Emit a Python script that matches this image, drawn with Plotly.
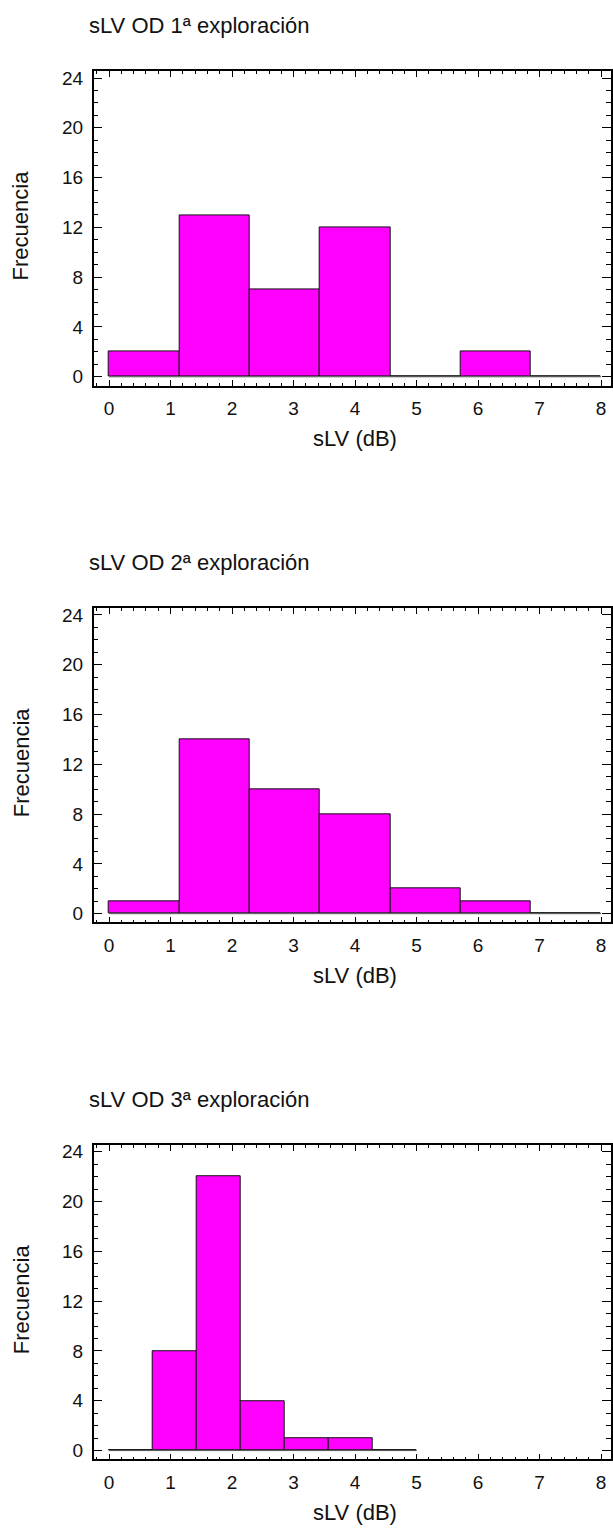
import numpy as np
import plotly.graph_objects as go

# ---- data ----
titles = ["sLV OD 1ª exploración", "sLV OD 2ª exploración", "sLV OD 3ª exploración"]
hist_start = [0.0, 0.0, 0.0]
hist_end = [8.0, 8.0, 5.0]
counts_1 = [2, 13, 7, 12, 0, 2, 0]
counts_2 = [1, 14, 10, 8, 2, 1, 0]
counts_3 = [0, 8, 22, 4, 1, 1, 0]
x_label = "sLV (dB)"
y_label = "Frecuencia"
x_ticks = [0, 1, 2, 3, 4, 5, 6, 7, 8]
y_ticks = [0, 4, 8, 12, 16, 20, 24]

all_counts = [counts_1, counts_2, counts_3]

W, H = 613, 1535
FONT = "Liberation Sans, Arial, sans-serif"
PANEL_OFF = 539.0
TOP0, BOT0 = 67.7, 383.0
LEFT, RIGHT = 94.0, 613.0

fig = go.Figure()
layout_axes = {}
annotations = []

def px_x(p):
    return p / W

def px_y(p):
    return 1 - p / H

for i in range(3):
    counts = np.array(all_counts[i], dtype=float)
    edges = np.linspace(hist_start[i], hist_end[i], len(counts) + 1)
    centers = (edges[:-1] + edges[1:]) / 2
    widths = np.diff(edges)
    xa = "x" if i == 0 else f"x{i+1}"
    ya = "y" if i == 0 else f"y{i+1}"
    fig.add_trace(go.Scatter(x=[edges[0], edges[-1]], y=[0, 0], mode="lines",
                             line=dict(color="#555555", width=1), xaxis=xa, yaxis=ya,
                             showlegend=False, hoverinfo="skip"))
    fig.add_trace(go.Bar(x=centers, y=counts, width=widths,
                         marker=dict(color="#FF00FF", line=dict(color="#111111", width=1)),
                         xaxis=xa, yaxis=ya, showlegend=False))
    top = TOP0 + i * PANEL_OFF
    bot = BOT0 + i * PANEL_OFF
    xk = "xaxis" if i == 0 else f"xaxis{i+1}"
    yk = "yaxis" if i == 0 else f"yaxis{i+1}"
    layout_axes[xk] = dict(
        domain=[px_x(LEFT), px_x(RIGHT)], anchor=ya, range=[-0.25, 8.16],
        tickvals=x_ticks, ticks="inside", ticklen=6, tickwidth=1, tickcolor="black",
        minor=dict(dtick=0.2, tick0=0, ticks="inside", ticklen=3, tickcolor="black", tickwidth=1),
        showline=True, linecolor="black", linewidth=1.5, mirror="ticks",
        showgrid=False, zeroline=False, ticklabelstandoff=5,
        tickfont=dict(family=FONT, size=19, color="#111111"), fixedrange=True,
    )
    layout_axes[yk] = dict(
        domain=[px_y(bot), px_y(top)], anchor=xa, range=[-0.70, 24.53],
        tickvals=y_ticks, ticks="inside", ticklen=9, tickwidth=1, tickcolor="black",
        minor=dict(dtick=1, tick0=0, ticks="inside", ticklen=5, tickcolor="black", tickwidth=1),
        showline=True, linecolor="black", linewidth=1.5, mirror="ticks",
        showgrid=False, zeroline=False, ticklabelstandoff=5,
        tickfont=dict(family=FONT, size=19, color="#111111"), fixedrange=True,
    )
    annotations.append(dict(text=titles[i], x=px_x(87), y=px_y(22 + i * PANEL_OFF),
                            xref="paper", yref="paper", xanchor="left", yanchor="middle",
                            showarrow=False, font=dict(family=FONT, size=22, color="#111111")))
    annotations.append(dict(text=y_label, x=px_x(21), y=px_y((top + bot) / 2 - 3),
                            xref="paper", yref="paper", xanchor="center", yanchor="middle",
                            textangle=-90, showarrow=False,
                            font=dict(family=FONT, size=22, color="#111111")))
    annotations.append(dict(text=x_label, x=px_x(356), y=px_y(436 + i * PANEL_OFF),
                            xref="paper", yref="paper", xanchor="center", yanchor="middle",
                            showarrow=False, font=dict(family=FONT, size=22, color="#111111")))

fig.update_layout(width=W, height=H, margin=dict(l=0, r=0, t=0, b=0),
                  paper_bgcolor="white", plot_bgcolor="white", bargap=0,
                  annotations=annotations, **layout_axes)
fig.write_html("out.html", config={"displayModeBar": False},
               post_script="document.body.style.margin='0';")
